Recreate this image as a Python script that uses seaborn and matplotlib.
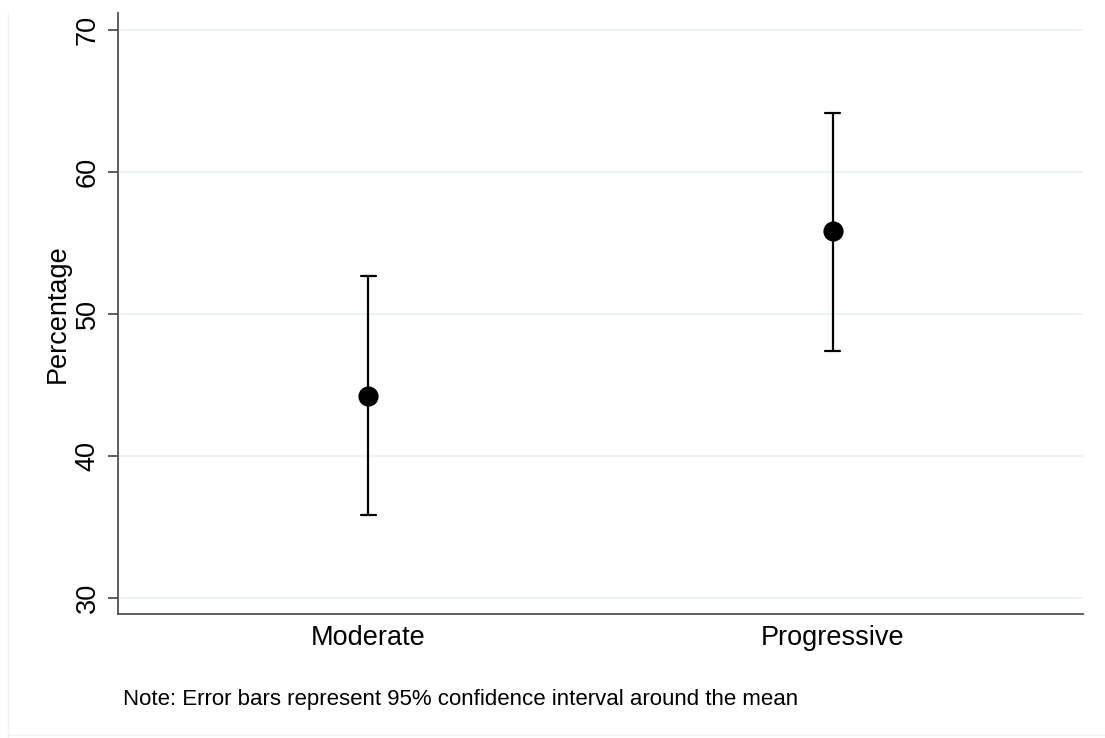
import matplotlib
matplotlib.use("Agg")
import matplotlib.pyplot as plt
from matplotlib.lines import Line2D
import seaborn as sns
import pandas as pd

# Data
groups = ["Moderate", "Progressive"]
means = [44.2, 55.85]
ci_low = [35.85, 47.4]
ci_high = [52.65, 64.15]
y_ticks = [30, 40, 50, 60, 70]

# Build a long table: lower, mean, upper for each group; median = mean, full range = CI
rows = []
for g, lo, m, hi in zip(groups, ci_low, means, ci_high):
    for v in (lo, m, hi):
        rows.append({"group": g, "value": v})
df = pd.DataFrame(rows)

sns.set_theme(style="white")
plt.rcParams["font.family"] = ["Liberation Sans", "DejaVu Sans"]

fig = plt.figure(figsize=(11.05, 7.38), dpi=100)
ax = fig.add_axes([118 / 1105, 1 - 614 / 738, (1083 - 118) / 1105, (614 - 13) / 738])

sns.pointplot(
    data=df, x="group", y="value", order=groups,
    estimator="median", errorbar=("pi", 100),
    linestyle="none", marker="o", markersize=12.5,
    color="black", capsize=0.032,
    err_kws={"linewidth": 1.6, "color": "black"},
    ax=ax,
)

ax.set_xlim(-0.539, 1.539)
ax.set_ylim(28.87, 71.2)
ax.set_yticks(y_ticks)
ax.set_yticklabels([str(t) for t in y_ticks], rotation=90, va="center")
ax.grid(axis="y", color="#e9f1f2", linewidth=1.3)
ax.grid(axis="x", visible=False)
ax.set_axisbelow(True)

for side in ("top", "right"):
    ax.spines[side].set_visible(False)
for side in ("left", "bottom"):
    ax.spines[side].set_color("#505050")
    ax.spines[side].set_linewidth(1.3)

ax.tick_params(axis="y", which="major", left=True, length=7.5, width=1.3,
               color="#505050", labelsize=19.5, pad=5, labelcolor="black")
ax.tick_params(axis="x", which="major", bottom=False, length=0,
               labelsize=19.5, pad=8, labelcolor="black")

ax.set_xlabel("")
ax.set_ylabel("Percentage", fontsize=19.5, color="black", labelpad=3)

fig.text(123 / 1105, 1 - 700 / 738,
         "Note: Error bars represent 95% confidence interval around the mean",
         fontsize=16, color="black", va="center", ha="left")

# faint outer frame of the original export
fig.add_artist(Line2D([8 / 1105, 8 / 1105], [0, 1 - 12 / 738],
                      transform=fig.transFigure, color="#eef3f4", linewidth=1))
fig.add_artist(Line2D([8 / 1105, 1], [3 / 738, 3 / 738],
                      transform=fig.transFigure, color="#eef3f4", linewidth=1))

fig.savefig("out.png", dpi=100, facecolor="white")
